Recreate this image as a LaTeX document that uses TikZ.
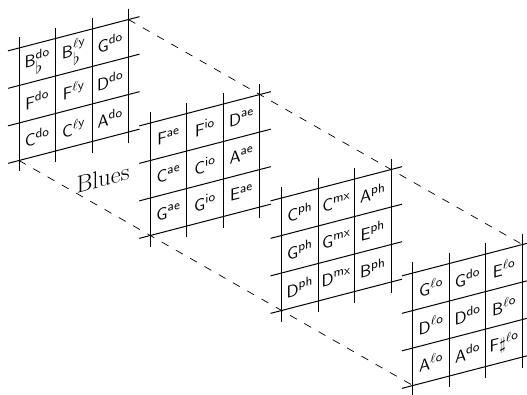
\documentclass[tikz,border=0pt]{standalone}
\newcommand\nt[2]{$\mathsf{#1}^{\mathsf{#2}}$}
\newcommand\gridlines{%
  \foreach \u in {0,36.5,73,109.5} \draw[gridline] (\u,11) -- (\u,-123.5);
  \foreach \v in {0,-37.5,-75,-112.5} \draw[gridline] (-11,\v) -- (120.5,\v);
}
\begin{document}
\begin{tikzpicture}[x=0.7pt,y=0.7pt,
  gridline/.style={line width=0.7pt},
  link/.style={line width=0.5pt, dash pattern=on 5.5pt off 6pt},
  cell/.style={font=\fontsize{12.5}{15}\sffamily, transform shape, inner sep=0pt}]
\useasboundingbox (0,0) rectangle (527,394);
% grid 1
\begin{scope}[shift={(19,346)}, yslant=0.26]
  \gridlines
  \coordinate (g1TR) at (109.5,0);
  \coordinate (g1BL) at (0,-112.5);
  \node[cell] (g1a) at (18.25,-18.75) {$\mathsf{B}^{\mathsf{do}}_{\textstyle\flat}$};
  \node[cell] (g1b) at (54.75,-18.75) {$\mathsf{B}^{\ell\mathsf{y}}_{\textstyle\flat}$};
  \node[cell] (g1c) at (91.25,-18.75) {\nt{G}{do}};
  \node[cell] (g1d) at (18.25,-56.25) {\nt{F}{do}};
  \node[cell] (g1e) at (54.75,-56.25) {$\mathsf{F}^{\ell\mathsf{y}}$};
  \node[cell] (g1f) at (91.25,-56.25) {\nt{D}{do}};
  \node[cell] (g1g) at (18.25,-93.75) {\nt{C}{do}};
  \node[cell] (g1h) at (54.75,-93.75) {$\mathsf{C}^{\ell\mathsf{y}}$};
  \node[cell] (g1i) at (91.25,-93.75) {\nt{A}{do}};
\end{scope}
% grid 2
\begin{scope}[shift={(150.3,271)}, yslant=0.26]
  \gridlines
  \coordinate (g2TR) at (109.5,0);
  \coordinate (g2BL) at (0,-112.5);
  \node[cell] (g2a) at (18.25,-18.75) {\nt{F}{ae}};
  \node[cell] (g2b) at (54.75,-18.75) {\nt{F}{io}};
  \node[cell] (g2c) at (91.25,-18.75) {\nt{D}{ae}};
  \node[cell] (g2d) at (18.25,-56.25) {\nt{C}{ae}};
  \node[cell] (g2e) at (54.75,-56.25) {\nt{C}{io}};
  \node[cell] (g2f) at (91.25,-56.25) {\nt{A}{ae}};
  \node[cell] (g2g) at (18.25,-93.75) {\nt{G}{ae}};
  \node[cell] (g2h) at (54.75,-93.75) {\nt{G}{io}};
  \node[cell] (g2i) at (91.25,-93.75) {\nt{E}{ae}};
\end{scope}
% grid 3
\begin{scope}[shift={(281.6,196)}, yslant=0.26]
  \gridlines
  \coordinate (g3TR) at (109.5,0);
  \coordinate (g3BL) at (0,-112.5);
  \node[cell] (g3a) at (18.25,-18.75) {\nt{C}{ph}};
  \node[cell] (g3b) at (54.75,-18.75) {\nt{C}{mx}};
  \node[cell] (g3c) at (91.25,-18.75) {\nt{A}{ph}};
  \node[cell] (g3d) at (18.25,-56.25) {\nt{G}{ph}};
  \node[cell] (g3e) at (54.75,-56.25) {\nt{G}{mx}};
  \node[cell] (g3f) at (91.25,-56.25) {\nt{E}{ph}};
  \node[cell] (g3g) at (18.25,-93.75) {\nt{D}{ph}};
  \node[cell] (g3h) at (54.75,-93.75) {\nt{D}{mx}};
  \node[cell] (g3i) at (91.25,-93.75) {\nt{B}{ph}};
\end{scope}
% grid 4
\begin{scope}[shift={(412.9,121)}, yslant=0.26]
  \gridlines
  \coordinate (g4TR) at (109.5,0);
  \coordinate (g4BL) at (0,-112.5);
  \node[cell] (g4a) at (18.25,-18.75) {$\mathsf{G}^{\ell\mathsf{o}}$};
  \node[cell] (g4b) at (54.75,-18.75) {\nt{G}{do}};
  \node[cell] (g4c) at (91.25,-18.75) {$\mathsf{E}^{\ell\mathsf{o}}$};
  \node[cell] (g4d) at (18.25,-56.25) {$\mathsf{D}^{\ell\mathsf{o}}$};
  \node[cell] (g4e) at (54.75,-56.25) {\nt{D}{do}};
  \node[cell] (g4f) at (91.25,-56.25) {$\mathsf{B}^{\ell\mathsf{o}}$};
  \node[cell] (g4g) at (18.25,-93.75) {$\mathsf{A}^{\ell\mathsf{o}}$};
  \node[cell] (g4h) at (54.75,-93.75) {\nt{A}{do}};
  \node[cell] (g4i) at (91.25,-93.75) {$\mathsf{F}{\sharp}^{\ell\mathsf{o}}$};
\end{scope}
% links
\draw[link] (g1TR) -- (g2TR) -- (g3TR) -- (g4TR);
\draw[link] (g1BL) -- (g2BL) -- (g3BL) -- (g4BL);
\node[font=\fontsize{17}{20}\selectfont, yslant=0.26] (blues) at (103,216) {Blues};
\end{tikzpicture}
\end{document}
